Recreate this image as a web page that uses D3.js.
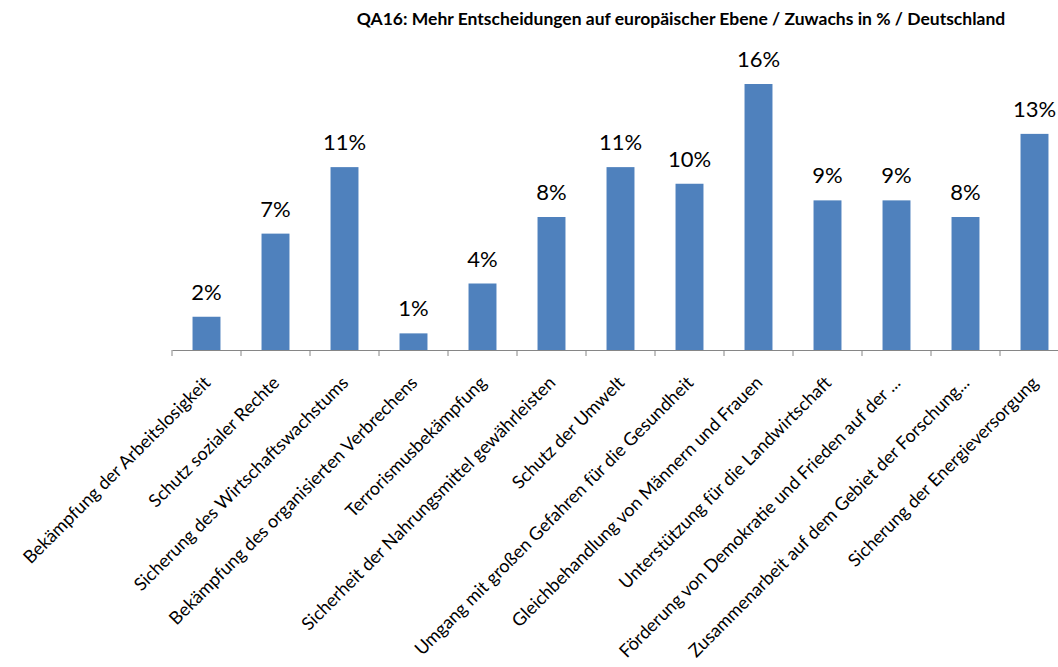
<!DOCTYPE html>
<html>
<head>
<meta charset="utf-8">
<script src="https://cdn.jsdelivr.net/npm/d3@7"></script>
<style>
  body { margin: 0; background: #fff; }
  svg text { font-family: Lato, "Open Sans", sans-serif; fill: #000; }
</style>
</head>
<body>
<svg id="chart" width="1058" height="667"></svg>
<script>
var categories = [
    'Bekämpfung der Arbeitslosigkeit',
    'Schutz sozialer Rechte',
    'Sicherung des Wirtschaftswachstums',
    'Bekämpfung des organisierten Verbrechens',
    'Terrorismusbekämpfung',
    'Sicherheit der Nahrungsmittel gewährleisten',
    'Schutz der Umwelt',
    'Umgang mit großen Gefahren für die Gesundheit',
    'Gleichbehandlung von Männern und Frauen',
    'Unterstützung für die Landwirtschaft',
    'Förderung von Demokratie und Frieden auf der ...',
    'Zusammenarbeit auf dem Gebiet der Forschung...',
    'Sicherung der Energieversorgung'
];
var values = [2, 7, 11, 1, 4, 8, 11, 10, 16, 9, 9, 8, 13];
var title = 'QA16: Mehr Entscheidungen auf europäischer Ebene / Zuwachs in % / Deutschland';

var svg = d3.select('#chart');
var axisY = 350;
var left = 172;
var step = 69;

var x = d3.scaleBand()
    .domain(categories)
    .range([left, left + step * categories.length])
    .paddingInner(0.595)
    .paddingOuter(0.2975);

var y = d3.scaleLinear()
    .domain([0, 16])
    .range([axisY, 84]);

svg.append('text')
    .attr('x', 681)
    .attr('y', 25)
    .attr('text-anchor', 'middle')
    .style('font-size', '17.5px')
    .style('font-weight', 'bold')
    .text(title);

svg.append('g')
    .selectAll('rect')
    .data(values)
    .enter().append('rect')
    .attr('x', function (d, i) { return x(categories[i]); })
    .attr('y', function (d) { return y(d); })
    .attr('width', x.bandwidth())
    .attr('height', function (d) { return axisY - y(d); })
    .attr('fill', '#4f81bd');

svg.append('g')
    .selectAll('text')
    .data(values)
    .enter().append('text')
    .attr('x', function (d, i) { return x(categories[i]) + x.bandwidth() / 2; })
    .attr('y', function (d) { return y(d) - 17; })
    .attr('text-anchor', 'middle')
    .style('font-size', '22px')
    .text(function (d) { return d + '%'; });

var axis = d3.axisBottom(x)
    .tickSize(6)
    .tickSizeOuter(0)
    .tickFormat('');

var $axis = svg.append('g')
    .attr('transform', 'translate(0,' + axisY + ')')
    .call(axis);

$axis.select('.domain').attr('stroke', '#868686');
// Excel puts the ticks on the category borders, not the centres
$axis.selectAll('.tick line')
    .attr('stroke', '#868686')
    .attr('x1', -step / 2)
    .attr('x2', -step / 2);
$axis.append('line')
    .attr('stroke', '#868686')
    .attr('x1', left + step * categories.length)
    .attr('x2', left + step * categories.length)
    .attr('y2', 6);

svg.append('g')
    .selectAll('text')
    .data(categories)
    .enter().append('text')
    .attr('transform', function (d) {
        return 'translate(' + (x(d) + x.bandwidth() / 2 + 5) + ',' + (axisY + 34) + ') rotate(-45)';
    })
    .attr('text-anchor', 'end')
    .style('font-size', '18px')
    .text(function (d) { return d; });
</script>
</body>
</html>
